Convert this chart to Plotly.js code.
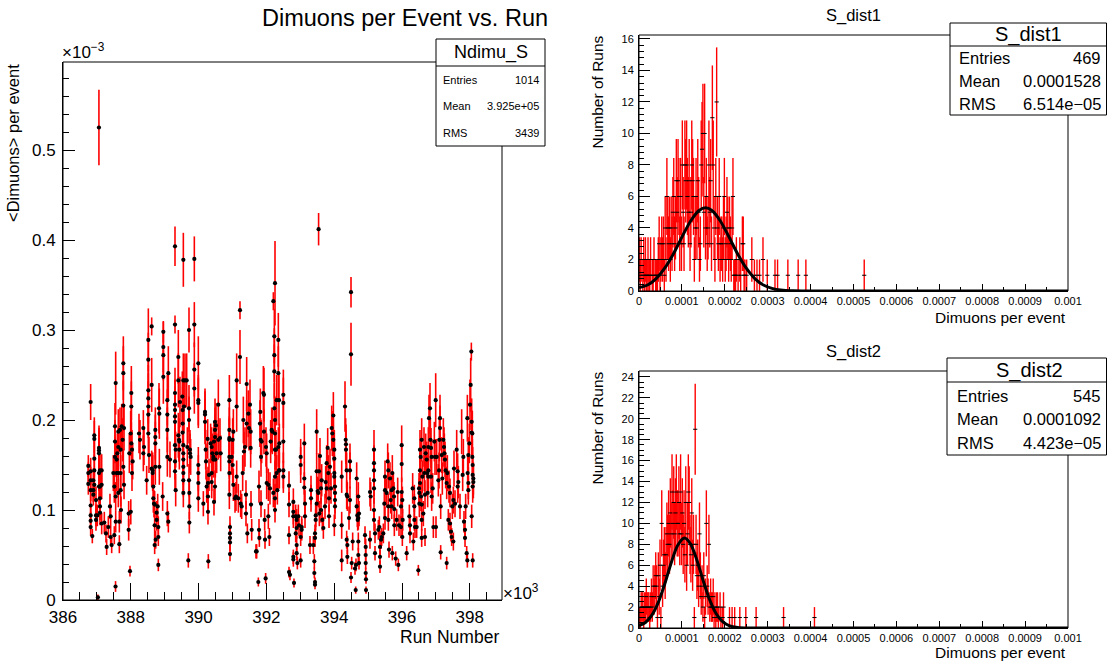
<!DOCTYPE html>
<html><head><meta charset="utf-8">
<script src="https://cdn.plot.ly/plotly-3.0.1.min.js"></script>
<style>html,body{margin:0;padding:0;background:#fff}#chart{width:1107px;height:661px}</style>
</head><body><div id="chart"></div>
<script>
// ---------- Left panel: <Dimuons> per event vs run (run in 10^3, rate in 10^-3) ----------
const runK = [
// A
386.747,386.747,386.747,386.816,386.816,386.816,386.816,386.816,386.816,386.816,
386.816,386.865,386.895,386.895,386.895,386.924,386.924,386.924,386.924,386.924,
386.973,386.973,386.973,387.013,387.062,387.062,387.062,387.062,387.062,387.091,
387.091,387.091,387.091,387.091,387.141,387.141,387.141,387.219,387.060,387.030,
// B
387.268,387.288,387.337,387.386,387.406,387.406,387.436,387.485,387.514,387.514,
387.534,387.534,387.534,387.554,387.554,387.554,387.583,387.583,387.603,387.632,
387.632,387.632,387.632,387.662,387.662,387.681,387.701,387.701,387.701,387.711,
387.731,387.760,387.780,387.780,387.780,387.780,387.800,387.800,387.937,387.937,
387.957,387.976,387.996,388.016,388.016,388.016,388.035,388.035,388.055,387.550,388.000,
// C
388.242,388.271,388.370,388.370,388.389,388.468,388.517,388.517,388.517,388.517,
388.517,388.517,388.517,388.537,388.616,388.616,388.616,388.645,388.645,388.665,
388.665,388.685,388.704,388.704,388.724,388.724,388.724,388.724,388.704,388.734,
388.763,388.763,388.793,388.812,388.812,388.812,388.832,388.842,388.842,388.940,
388.960,388.960,388.960,388.960,389.078,389.078,389.078,389.078,389.078,389.107,
389.107,389.156,
// D
389.304,389.304,389.304,389.304,389.304,389.304,389.304,389.304,389.304,389.304,
389.324,389.324,389.402,389.402,389.402,389.422,389.432,389.432,389.451,389.520,
389.530,389.530,389.530,389.550,389.550,389.550,389.550,389.550,389.550,389.550,
389.550,389.550,389.569,389.599,389.648,389.668,389.697,389.717,389.717,389.717,
389.717,389.727,389.727,389.727,389.746,389.746,389.766,389.874,389.874,389.874,
389.874,389.992,389.992,389.992,389.992,389.992,389.992,389.992,
// E
390.140,390.189,390.189,390.189,390.209,390.218,390.238,390.268,390.277,390.277,
390.277,390.287,390.307,390.356,390.386,390.386,390.386,390.405,390.435,390.435,
390.454,390.454,390.484,390.484,390.484,390.484,390.494,390.513,390.533,390.582,
390.582,390.631,390.651,
// F
390.907,390.907,390.907,390.907,390.907,390.907,390.907,390.907,390.926,390.926,
390.926,390.926,390.926,390.976,391.005,391.005,391.025,391.025,391.074,391.103,
391.123,391.123,391.123,391.172,391.221,391.221,391.241,391.271,391.300,391.320,
391.339,391.369,391.398,391.398,391.418,391.418,391.438,391.467,391.487,391.516,
391.536,391.536,391.546,391.566,
// G
391.693,391.713,391.762,391.782,391.782,391.792,391.811,391.821,391.831,391.841,
391.841,391.860,391.910,391.929,391.929,391.949,391.959,391.978,391.988,392.008,
392.008,392.057,392.057,392.087,392.106,392.126,392.155,392.175,392.205,392.205,
392.234,392.234,392.234,392.234,392.254,392.254,392.254,392.254,392.254,392.254,
392.254,392.283,392.303,392.303,392.323,392.352,392.352,392.352,392.372,392.372,
392.382,392.382,392.500,392.500,392.500,392.500,392.500,
// H
392.667,392.667,392.667,392.667,392.696,392.795,392.795,392.795,392.795,392.795,
392.814,392.864,392.864,392.893,392.893,392.893,392.893,392.913,392.942,392.962,
393.011,393.011,393.011,393.011,393.041,393.041,393.119,393.119,393.119,393.139,393.139,
// I
393.286,393.316,393.316,393.385,393.414,393.414,393.434,393.434,393.434,393.434,
393.454,393.454,393.483,393.483,393.483,393.513,393.532,393.540,393.552,393.562,
393.581,393.611,393.611,393.631,393.650,393.680,393.729,393.749,393.778,393.778,
393.808,393.827,393.847,393.847,393.876,393.906,393.926,393.945,393.975,393.975,
394.004,394.004,394.004,394.004,394.004,394.024,394.024,394.024,394.024,394.221,
394.221,394.221,394.319,394.339,394.348,394.348,394.368,394.368,394.368,394.388,
394.388,394.388,394.437,394.466,394.466,394.466,394.496,394.496,394.496,394.516,
394.545,394.614,394.634,394.643,394.663,394.663,394.683,394.693,394.712,394.712,
394.712,394.712,394.732,394.732,
// J
394.909,394.929,394.929,394.929,394.929,394.938,394.938,395.056,395.056,395.076,
395.174,395.174,395.174,395.174,395.174,395.174,395.174,395.204,395.204,395.302,
395.332,395.351,395.351,395.351,395.381,395.401,395.450,395.479,395.499,395.499,395.499,
// K
395.548,395.578,395.597,395.597,395.597,395.617,395.646,395.666,395.696,395.696,
395.715,395.715,395.745,395.764,395.774,395.774,395.814,395.843,395.873,395.892,
395.912,395.971,395.971,395.991,395.991,395.991,396.010,396.010,396.020,396.138,
396.217,396.236,396.236,
// L
396.315,396.335,396.364,396.364,396.364,396.384,396.433,396.482,396.502,396.512,
396.512,396.531,396.531,396.531,396.551,396.561,396.581,396.581,396.581,396.581,
396.600,396.630,396.649,396.659,396.679,396.679,396.699,396.728,396.748,396.757,
396.777,396.777,396.777,396.797,396.826,396.836,396.856,396.856,
// M
396.875,396.875,396.905,396.925,396.954,396.974,396.994,397.003,397.023,397.072,
397.092,397.102,397.121,397.121,397.141,397.141,397.170,397.190,397.220,397.239,
397.249,397.269,397.288,397.318,397.318,397.338,397.367,397.387,397.416,397.416,
397.446,397.465,397.485,397.515,397.515,397.534,397.564,
// N
397.613,397.642,397.642,397.662,397.711,397.760,397.790,397.810,397.829,397.859,
397.859,397.878,397.908,397.928,397.928,397.937,397.957,397.957,397.957,397.987,
398.006,398.026,398.046,398.056,398.056,398.056,398.075,398.075,398.085,398.085,
398.085,398.085,398.105,398.105
];
const rate = [
// A
.149,.141,.129,.220,.143,.133,.122,.105,.094,.088,
.081,.071,.133,.122,.117,.183,.179,.157,.144,.128,
.111,.094,.089,.094,.169,.166,.163,.141,.126,.144,
.126,.113,.104,.097,.144,.128,.085,.086,.525,.003,
// B
.074,.059,.081,.104,.093,.070,.061,.141,.072,.126,
.159,.176,.193,.241,.115,.087,.141,.156,.163,.187,
.170,.141,.119,.087,.062,.189,.167,.141,.122,.100,
.193,.178,.263,.252,.216,.148,.128,.191,.078,.096,
.163,.032,.185,.230,.215,.174,.167,.141,.154,.015,.098,
// C
.185,.178,.191,.163,.170,.133,.289,.267,.233,.224,
.215,.206,.185,.161,.304,.239,.146,.144,.141,.126,
.113,.107,.106,.083,.189,.181,.174,.148,.061,.067,
.089,.097,.104,.081,.070,.039,.213,.207,.148,.115,
.298,.281,.272,.248,.222,.206,.189,.159,.096,.087,
.252,.156,
// D
.393,.306,.230,.217,.211,.204,.198,.172,.154,.143,
.167,.122,.270,.244,.183,.178,.176,.167,.220,.226,
.211,.196,.186,.378,.244,.172,.163,.156,.148,.141,
.133,.119,.215,.244,.244,.170,.044,.300,.200,.213,
.133,.104,.086,.119,.167,.163,.159,.379,.306,.256,
.235,.263,.222,.219,.150,.141,.130,.113,
// E
.107,.209,.206,.198,.167,.154,.126,.179,.130,.115,
.098,.043,.139,.174,.170,.141,.131,.163,.159,.156,
.176,.109,.198,.189,.181,.126,.156,.194,.163,.178,
.217,.180,.163,
// F
.222,.189,.180,.178,.159,.154,.141,.117,.081,.074,
.069,.064,.051,.159,.178,.150,.187,.128,.113,.115,
.244,.215,.137,.113,.322,.270,.107,.104,.141,.200,
.165,.170,.117,.096,.240,.196,.074,.207,.191,.217,
.187,.169,.106,.078,
// G
.054,.054,.020,.126,.078,.069,.196,.209,.178,.159,
.107,.176,.230,.228,.187,.089,.067,.024,.170,.163,
.130,.128,.093,.070,.124,.176,.189,.187,.119,.332,
.293,.272,.254,.213,.352,.200,.185,.167,.137,.113,
.100,.167,.222,.141,.122,.289,.252,.170,.222,.144,
.144,.174,.228,.219,.176,.144,.137,
// H
.127,.106,.072,.031,.028,.109,.098,.093,.048,.045,
.019,.093,.074,.089,.080,.061,.052,.041,.093,.083,
.159,.150,.070,.044,.081,.078,.174,.135,.125,.107,.093,
// I
.061,.122,.113,.061,.043,.030,.020,.017,.074,.069,
.094,.089,.187,.143,.107,.121,.119,.412,.143,.096,
.160,.124,.100,.133,.089,.080,.104,.131,.124,.152,
.169,.141,.093,.113,.148,.124,.191,.185,.205,.178,
.167,.157,.141,.137,.083,.126,.119,.111,.104,.137,
.083,.044,.215,.178,.173,.167,.144,.117,.067,.115,
.061,.048,.091,.154,.144,.111,.025,.342,.273,.041,
.065,.035,.011,.039,.135,.104,.094,.089,.115,.091,
.065,.050,.096,.041,
// J
.072,.059,.050,.041,.030,.023,.011,.120,.067,.115,
.167,.152,.144,.133,.124,.100,.089,.074,.052,.078,
.081,.059,.048,.037,.067,.070,.074,.107,.091,.137,.122,
// K
.119,.154,.144,.104,.089,.056,.135,.111,.122,.104,
.141,.052,.124,.115,.101,.083,.046,.089,.120,.039,
.083,.104,.081,.172,.151,.120,.111,.070,.089,.052,
.093,.083,.074,
// L
.124,.065,.113,.104,.089,.081,.081,.033,.124,.119,
.107,.167,.144,.130,.159,.115,.178,.106,.089,.069,
.137,.096,.170,.141,.070,.117,.163,.156,.141,.119,
.170,.144,.137,.202,.213,.178,.169,.137,
// M
.159,.115,.124,.081,.176,.159,.222,.081,.159,.133,
.144,.178,.202,.191,.053,.104,.161,.135,.178,.170,
.163,.156,.144,.130,.041,.141,.089,.126,.119,.085,
.076,.070,.104,.111,.065,.146,.107,
// N
.167,.143,.126,.131,.104,.187,.139,.159,.087,.069,
.078,.104,.052,.044,.202,.141,.161,.130,.122,.174,
.217,.239,.276,.198,.186,.093,.185,.159,.150,.139,
.126,.044,.135,.131
];
const rateErr = [
// A
.012,.012,.012,.020,.015,.015,.012,.012,.010,.010,
.010,.008,.013,.013,.012,.020,.020,.020,.018,.015,
.015,.012,.012,.012,.025,.025,.025,.020,.020,.018,
.018,.016,.015,.014,.018,.016,.012,.012,.042,.003,
// B
.010,.009,.012,.014,.013,.010,.009,.020,.010,.018,
.022,.024,.026,.035,.016,.012,.020,.020,.022,.025,
.022,.020,.016,.012,.010,.025,.022,.020,.018,.015,
.025,.024,.030,.030,.028,.020,.016,.025,.012,.014,
.022,.006,.025,.030,.028,.024,.022,.020,.020,.006,.014,
// C
.022,.022,.020,.020,.020,.016,.035,.030,.028,.028,
.028,.026,.025,.020,.010,.030,.020,.020,.020,.018,
.016,.015,.015,.012,.025,.025,.024,.020,.010,.010,
.012,.013,.014,.012,.010,.007,.028,.028,.020,.016,
.012,.028,.028,.030,.028,.028,.025,.022,.014,.012,
.030,.020,
// D
.022,.010,.028,.028,.026,.026,.025,.022,.020,.020,
.020,.018,.030,.030,.025,.024,.022,.022,.028,.028,
.026,.026,.025,.030,.030,.022,.022,.020,.020,.020,
.018,.016,.028,.030,.030,.022,.008,.025,.026,.026,
.018,.014,.012,.016,.022,.022,.020,.025,.025,.030,
.028,.030,.028,.028,.020,.020,.018,.015,
// E
.014,.026,.026,.025,.022,.020,.018,.022,.018,.016,
.014,.008,.018,.022,.022,.020,.018,.022,.020,.020,
.022,.015,.026,.025,.025,.018,.020,.025,.022,.022,
.028,.022,.020,
// F
.028,.025,.024,.024,.022,.020,.020,.016,.012,.011,
.010,.010,.008,.020,.024,.020,.025,.018,.016,.016,
.030,.028,.018,.016,.010,.030,.015,.014,.020,.026,
.022,.022,.016,.014,.030,.026,.011,.026,.025,.028,
.025,.022,.015,.012,
// G
.008,.008,.005,.018,.012,.010,.026,.026,.024,.022,
.015,.024,.030,.030,.025,.012,.010,.006,.022,.022,
.018,.018,.014,.010,.018,.024,.025,.025,.016,.010,
.030,.030,.030,.028,.047,.026,.025,.022,.018,.016,
.014,.022,.028,.020,.016,.030,.030,.022,.028,.020,
.020,.022,.028,.028,.024,.020,.018,
// H
.016,.014,.010,.006,.006,.015,.014,.013,.008,.008,
.005,.013,.010,.012,.012,.010,.008,.007,.013,.012,
.020,.020,.010,.008,.012,.012,.022,.018,.017,.015,.013,
// I
.010,.016,.015,.010,.008,.006,.005,.005,.010,.010,
.013,.012,.025,.020,.015,.016,.016,.018,.020,.014,
.020,.017,.014,.018,.012,.012,.014,.018,.017,.020,
.022,.020,.013,.015,.020,.017,.025,.025,.026,.024,
.022,.020,.020,.018,.012,.018,.016,.015,.014,.018,
.015,.012,.028,.024,.022,.022,.020,.016,.010,.016,
.010,.008,.013,.020,.020,.015,.006,.017,.035,.007,
.010,.007,.004,.007,.018,.014,.013,.012,.016,.013,
.010,.008,.014,.007,
// J
.010,.009,.008,.007,.006,.005,.004,.016,.010,.016,
.022,.020,.020,.018,.017,.014,.012,.011,.008,.011,
.012,.009,.008,.007,.010,.010,.011,.015,.013,.018,.016,
// K
.016,.020,.020,.014,.012,.009,.018,.015,.016,.014,
.020,.008,.017,.016,.014,.012,.008,.012,.016,.007,
.012,.014,.012,.022,.020,.016,.015,.010,.012,.008,
.013,.012,.011,
// L
.017,.010,.015,.014,.012,.012,.012,.006,.017,.016,
.015,.022,.020,.018,.020,.016,.024,.015,.012,.010,
.018,.014,.022,.020,.010,.016,.022,.020,.020,.016,
.022,.020,.018,.026,.028,.024,.022,.018,
// M
.020,.016,.017,.012,.022,.020,.030,.012,.020,.018,
.020,.024,.026,.025,.008,.014,.020,.018,.024,.022,
.022,.020,.020,.018,.007,.020,.012,.018,.016,.012,
.011,.010,.014,.015,.010,.020,.015,
// N
.022,.020,.018,.018,.014,.025,.018,.020,.012,.010,
.011,.014,.008,.008,.026,.020,.020,.018,.016,.022,
.028,.030,.010,.026,.025,.013,.025,.020,.020,.018,
.018,.008,.018,.018
];

// ---------- Histograms (bin width 2e-6, from 0) ----------
const binWidth = 2e-6;
const dist1Counts = [
2,1,2,0,1,2,1,2,1,1,2,1,1,2,0,1,
1,2,0,1,1,1,2,3,1,2,3,2,3,1,4,2,
6,4,3,4,2,4,3,5,6,3,4,7,5,7,6,3,
6,3,8,5,3,8,7,8,6,5,7,3,5,8,7,6,
2,4,6,4,7,5,2,3,8,9,10,5,10,4,6,3,
4,8,5,7,3,11,8,4,2,6,12,4,3,6,2,3,
3,2,4,6,2,3,5,4,2,4,3,2,4,6,1,1,
1,2,0,1,0,2,1,0,3,3,1,1,0,1,0,0,
0,0,0,2,0,0,1,0,0,1,0,0,1,0,0,0,
2,0,0,0,0,1,0,0,0,0,0,0,0,0,1,0,
0,1,0,0,0,0,0,0,0,0,0,0,0,1,0,0,
0,0,0,0,0,0,0,0,0,1,0,0,0,0,0,0,
0,0,1,0,0,0,0,0,0,0,0,0,0,0,0,0,
0,0,0,0,0,0,0,0,0,0,0,0,0,0,0,0,
0,0,0,0,0,0,0,0,0,0,0,0,0,0,0,0,
0,0,0,0,0,0,0,0,0,0,0,0,0,0,0,0,
0,0,0,0,0,0,1,0
];
const dist2Counts = [
1,1,2,2,2,1,2,2,3,2,2,2,1,2,3,2,
4,3,4,5,4,1,5,3,6,1,10,4,6,7,5,7,
9,8,10,8,11,9,13,10,12,9,11,13,10,10,12,9,
13,9,11,8,10,7,12,6,9,13,12,8,7,11,6,8,
1,19,8,5,6,4,9,5,3,4,2,5,1,3,10,4,
3,8,2,3,2,2,3,1,2,1,2,2,1,0,2,1,
0,1,2,0,0,0,0,0,0,1,0,0,1,0,0,1,
0,0,0,0,0,1,0,0,0,0,0,0,1,0,0,0,
0,0,0,0,0,0,0,0,1,0,0,0,0,0,0,0,
0,0,0,0,0,0,0,0,0,0,0,0,0,0,0,0,
0,0,0,0,0,0,0,0,1,0,0,0,0,0,0,0,
0,0,0,0,0,0,0,0,0,0,0,0,0,0,0,0,
0,0,0,0,0,0,0,0,0,0,0,0,1,0,0,0
];
// Gaussian fit curves
const fit1X = [0,0.00002,0.00004,0.00006,0.00008,0.0001,0.00012,0.00014,0.000155,0.00017,0.00019,0.00021,0.00023,0.00025,0.00027,0.00029,0.00031,0.00033,0.00036,0.0004,0.001];
const fit1Y = [0.22,0.38,0.79,1.45,2.35,3.42,4.43,5.11,5.28,5.11,4.43,3.42,2.35,1.45,0.79,0.38,0.17,0.065,0.01,0,0];
const fit2X = [0,0.000015,0.00003,0.000045,0.00006,0.000075,0.00009,0.000106,0.00012,0.000135,0.00015,0.000165,0.00018,0.000195,0.00021,0.00023,0.00026,0.001];
const fit2Y = [0.22,0.53,1.23,2.45,4.21,6.22,7.89,8.6,8.05,6.48,4.48,2.66,1.36,0.6,0.22,0.05,0,0];

// ---------- Stats box texts ----------
const statLabels = ['Entries','Mean','RMS'];
const statsMain = ['1014','3.925e+05','3439'];
const statsD1 = ['469','0.0001528','6.514e\u221205'];
const statsD2 = ['545','0.0001092','4.423e\u221205'];

// ---------- Drawing ----------
const W = 1107, H = 661;
const FONT = 'Liberation Sans, Arial, Helvetica, sans-serif';
const X = v => v / W, Y = v => 1 - v / H;

const traces = [
  {type:'scatter', mode:'markers', xaxis:'x', yaxis:'y', x: runK, y: rate,
   error_y:{type:'data', array: rateErr, visible:true, color:'#ff0000', thickness:1.6, width:0},
   marker:{color:'#000', size:4.2, symbol:'circle'}, hoverinfo:'skip'},
  {type:'scatter', mode:'markers', xaxis:'x2', yaxis:'y2', x0: binWidth/2, dx: binWidth,
   y: dist1Counts.map(c => c > 0 ? c : null),
   error_y:{type:'sqrt', visible:true, color:'#ff0000', thickness:1.4, width:0},
   marker:{symbol:'line-ew', size:3, color:'#000', line:{width:1, color:'#000'}}, hoverinfo:'skip'},
  {type:'scatter', mode:'lines', xaxis:'x2', yaxis:'y2', x: fit1X, y: fit1Y,
   line:{color:'#000', width:3, shape:'spline', smoothing:0.8}, hoverinfo:'skip'},
  {type:'scatter', mode:'markers', xaxis:'x3', yaxis:'y3', x0: binWidth/2, dx: binWidth,
   y: dist2Counts.map(c => c > 0 ? c : null),
   error_y:{type:'sqrt', visible:true, color:'#ff0000', thickness:1.4, width:0},
   marker:{symbol:'line-ew', size:3, color:'#000', line:{width:1, color:'#000'}}, hoverinfo:'skip'},
  {type:'scatter', mode:'lines', xaxis:'x3', yaxis:'y3', x: fit2X, y: fit2Y,
   line:{color:'#000', width:3, shape:'spline', smoothing:0.8}, hoverinfo:'skip'}
];

function axis(o) {
  return Object.assign({
    showline:true, linecolor:'#000', linewidth:1, mirror:false,
    ticks:'inside', tickcolor:'#000', tickwidth:1,
    showgrid:false, zeroline:false, fixedrange:true,
    tickfont:{family:FONT, size:17, color:'#000'}
  }, o);
}
function minor(len, dt) { return {ticks:'inside', ticklen:len, dtick:dt, tickcolor:'#000', tickwidth:1, showgrid:false}; }

function ann(text, x, y, size, xa, ya, angle) {
  return {text, x:X(x), y:Y(y), xref:'paper', yref:'paper', xanchor:xa||'center', yanchor:ya||'middle',
    showarrow:false, textangle:angle||0, borderpad:0, font:{family:FONT, size, color:'#000'}};
}
function rect(x0, y0, x1, y1, fill) {
  return {type:'rect', xref:'paper', yref:'paper', x0:X(x0), x1:X(x1), y0:Y(y1), y1:Y(y0),
    line:{color:'#000', width:1}, fillcolor: fill || 'rgba(0,0,0,0)', layer:'above'};
}
function hline(x0, x1, y) {
  return {type:'line', xref:'paper', yref:'paper', x0:X(x0), x1:X(x1), y0:Y(y), y1:Y(y), line:{color:'#000', width:1}, layer:'above'};
}

const shapes = [
  rect(63, 62, 502, 600), rect(639, 35, 1068, 291), rect(639, 371, 1068, 628),
  rect(436, 39, 545, 146, '#fff'), hline(436, 545, 66),
  rect(950, 23, 1106.5, 115, '#fff'), hline(950, 1106.5, 46),
  rect(947, 358, 1106.5, 455, '#fff'), hline(947, 1106.5, 382)
];

const annotations = [
  ann('Dimuons per Event vs. Run', 404.5, 18, 23.5),
  ann('&lt;Dimuons&gt; per event', 13, 63, 16.5, 'center', 'top', -90),
  ann('Run Number', 500, 637, 17.5, 'right'),
  ann('\u00d710<sup>\u22123</sup>', 61, 51, 17, 'left'),
  ann('\u00d710<sup>3</sup>', 502, 592, 17, 'left'),
  ann('S_dist1', 853, 15, 16.5),
  ann('S_dist2', 853, 351, 16.5),
  ann('Number of Runs', 597, 35, 15.5, 'center', 'top', -90),
  ann('Number of Runs', 597, 371, 15.5, 'center', 'top', -90),
  ann('Dimuons per event', 1067, 317, 15.5, 'right'),
  ann('Dimuons per event', 1067, 652, 15.5, 'right'),
  ann('Ndimu_S', 490.5, 52.5, 18),
  ann('S_dist1', 1028, 34.5, 20),
  ann('S_dist2', 1029, 370, 20)
];
const rowsMain = [80, 106, 133], rowsD1 = [58, 81, 104], rowsD2 = [396, 419, 443];
statLabels.forEach((lab, i) => {
  annotations.push(ann(lab, 442, rowsMain[i], 11, 'left'));
  annotations.push(ann(statsMain[i], 540, rowsMain[i], 11, 'right'));
  annotations.push(ann(lab, 958, rowsD1[i], 16.5, 'left'));
  annotations.push(ann(statsD1[i], 1102, rowsD1[i], 16.5, 'right'));
  annotations.push(ann(lab, 956, rowsD2[i], 16.5, 'left'));
  annotations.push(ann(statsD2[i], 1102, rowsD2[i], 16.5, 'right'));
});

const layout = {
  width:W, height:H, margin:{l:0, r:0, t:0, b:0, pad:0},
  paper_bgcolor:'#fff', plot_bgcolor:'#fff', showlegend:false, hovermode:false,
  font:{family:FONT, color:'#000'},
  xaxis: axis({domain:[X(63), X(502)], range:[386, 398.95], anchor:'y', dtick:2, tick0:386,
    ticklen:17, minor:minor(8, 0.5), ticklabelstandoff:2}),
  yaxis: axis({domain:[Y(600), Y(62)], range:[0, 0.5978], anchor:'x', dtick:0.1, tick0:0,
    ticklen:12, minor:minor(6, 0.02), ticklabelstandoff:3}),
  xaxis2: axis({domain:[X(639), X(1068)], range:[0, 0.001], anchor:'y2', dtick:0.0001, tick0:0,
    tickformat:'.4~f', ticklen:7, minor:minor(4, 0.00005), tickfont:{family:FONT, size:11, color:'#000'}, ticklabelstandoff:0}),
  yaxis2: axis({domain:[Y(291), Y(35)], range:[0, 16.25], anchor:'x2', dtick:2, tick0:0,
    ticklen:11, minor:minor(5, 0.4), tickfont:{family:FONT, size:11, color:'#000'}, ticklabelstandoff:2}),
  xaxis3: axis({domain:[X(639), X(1068)], range:[0, 0.001], anchor:'y3', dtick:0.0001, tick0:0,
    tickformat:'.4~f', ticklen:7, minor:minor(4, 0.00005), tickfont:{family:FONT, size:11, color:'#000'}, ticklabelstandoff:0}),
  yaxis3: axis({domain:[Y(628), Y(371)], range:[0, 24.57], anchor:'x3', dtick:2, tick0:0,
    ticklen:11, minor:minor(5, 0.5), tickfont:{family:FONT, size:11, color:'#000'}, ticklabelstandoff:2}),
  shapes, annotations
};

Plotly.newPlot('chart', traces, layout, {staticPlot:true, displayModeBar:false});
</script>
</body></html>
